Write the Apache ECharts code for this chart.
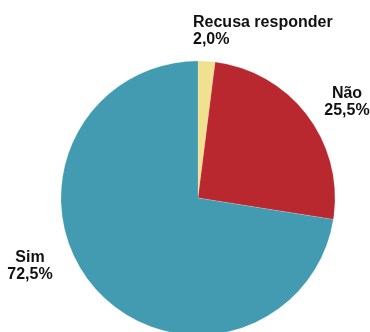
<!DOCTYPE html>
<html><head><meta charset="utf-8">
<script src="https://cdn.jsdelivr.net/npm/echarts@6/dist/echarts.min.js"></script>
<style>html,body{margin:0;padding:0;background:#fff}#c{width:370px;height:332px}</style>
</head><body><div id="c"></div>
<script>
const categories = ['Recusa responder', 'Não', 'Sim'];
const values = [2.0, 25.5, 72.5];
const colors = ['#F0E08F', '#B9282F', '#429BB0'];
const labelPos = [
  {x: 193, y: 31, align: 'left'},
  {x: 347, y: 102, align: 'center'},
  {x: 30, y: 266, align: 'center'}
];
const chart = echarts.init(document.getElementById('c'));
chart.setOption({
  animation: false,
  series: [{
    type: 'pie',
    center: [198, 198],
    radius: 137,
    startAngle: 90,
    clockwise: true,
    avoidLabelOverlap: false,
    data: categories.map((n, i) => ({name: n, value: values[i], itemStyle: {color: colors[i]}})),
    label: {
      show: true,
      position: 'outside',
      overflow: 'none',
      formatter: p => p.name + '\n' + p.value.toFixed(1).replace('.', ',') + '%',
      fontFamily: 'Liberation Sans, Arial, sans-serif',
      fontWeight: 'bold',
      fontSize: 16,
      lineHeight: 17,
      color: '#111111'
    },
    labelLine: {show: false},
    labelLayout: function (params) {
      const p = labelPos[params.dataIndex];
      return {x: p.x, y: p.y, align: p.align, verticalAlign: 'middle', hideOverlap: false, moveOverlap: null};
    },
    itemStyle: {borderColor: 'rgba(255,255,255,0.3)', borderWidth: 0.5}
  }]
});
</script></body></html>
